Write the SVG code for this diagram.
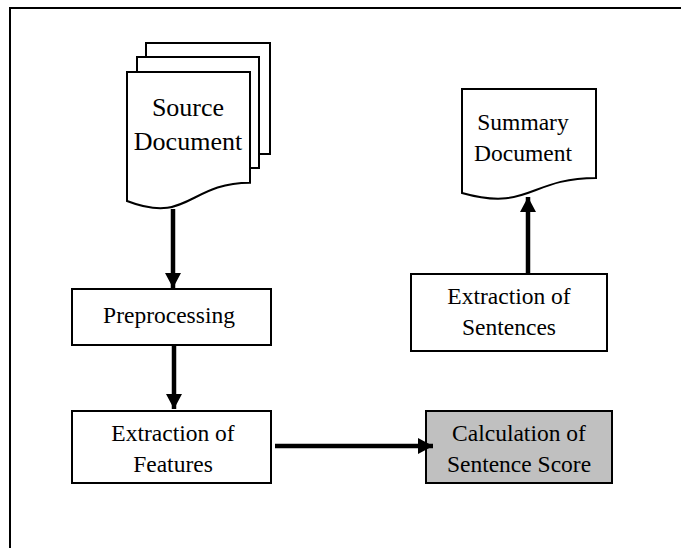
<svg xmlns="http://www.w3.org/2000/svg" width="681" height="548" viewBox="0 0 681 548">
<defs>
<style>
.shape{fill:#fff;stroke:#000;stroke-width:2}
.box{fill:#fff;stroke:#000;stroke-width:2}
.gray{fill:#c0c0c0;stroke:#000;stroke-width:2}
.t{font-family:"Liberation Serif","Times New Roman",serif;font-size:23.5px;fill:#000;text-anchor:middle}
.big{font-size:26px}
.conn{stroke:#000;stroke-width:4.5;fill:none}
</style>
<marker id="ah" viewBox="0 0 16 16" refX="15" refY="8" markerUnits="userSpaceOnUse" markerWidth="16" markerHeight="16" orient="auto">
<path d="M0,0 L15,8 L0,16 Z" fill="#000"/>
</marker>
</defs>
<rect width="681" height="548" fill="#fff"/>
<path d="M10,548 V8 H681" fill="none" stroke="#000" stroke-width="2"/>
<g id="source-document">
<path class="shape" d="M146,43 H270 V154 H259 V57 H146 Z"/>
<path class="shape" d="M137,57 H259 V168 H250 V72 H137 Z"/>
<path class="shape" d="M127,72 H250 V182.7 C188.5,182.7 188.5,224.8 127,201 Z"/>
<text class="t big" x="188" y="116">Source</text>
<text class="t big" x="188" y="150">Document</text>
</g>
<g id="summary-document">
<path class="shape" d="M462,89 H596 V178 C529,178 529,212 462,193 Z"/>
<text class="t" x="523" y="130">Summary</text>
<text class="t" x="523" y="161">Document</text>
</g>
<g id="preprocessing">
<rect class="box" x="72" y="289" width="199" height="56"/>
<text class="t" x="169" y="323">Preprocessing</text>
</g>
<g id="extraction-features">
<rect class="box" x="72" y="411" width="199" height="72"/>
<text class="t" x="173" y="441">Extraction of</text>
<text class="t" x="173" y="472">Features</text>
</g>
<g id="extraction-sentences">
<rect class="box" x="411" y="274" width="196" height="77"/>
<text class="t" x="509" y="304">Extraction of</text>
<text class="t" x="509" y="335">Sentences</text>
</g>
<g id="calculation-score">
<rect class="gray" x="426" y="411" width="186" height="72"/>
<text class="t" x="519" y="441">Calculation of</text>
<text class="t" x="519" y="472">Sentence Score</text>
</g>
<g id="connectors">
<line class="conn" x1="173" y1="209" x2="173" y2="288" marker-end="url(#ah)"/>
<line class="conn" x1="174" y1="345" x2="174" y2="409" marker-end="url(#ah)"/>
<line class="conn" x1="275" y1="446" x2="433" y2="446" marker-end="url(#ah)"/>
<line class="conn" x1="528" y1="274" x2="528" y2="197" marker-end="url(#ah)"/>
</g>
</svg>
